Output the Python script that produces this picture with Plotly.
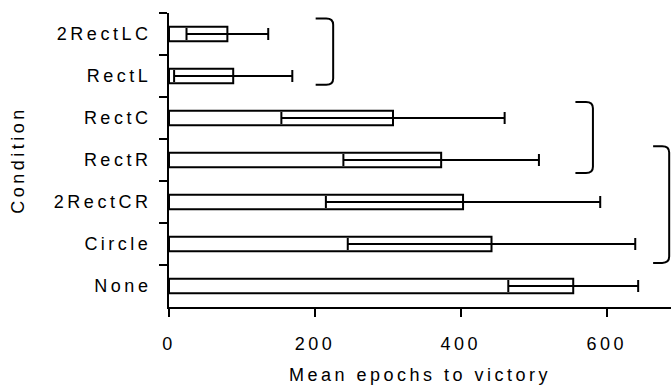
import plotly.graph_objects as go

# ---- data ----
categories = ["2RectLC", "RectL", "RectC", "RectR", "2RectCR", "Circle", "None"]
mean_epochs = [80, 88, 307, 373, 403, 442, 554]
error_epochs = [56, 81, 153, 134, 188, 197, 89]
x_ticks = [0, 200, 400, 600]

# brackets grouping conditions: (first category, last category, x position of bracket)
bracket_groups = [("2RectLC", "RectL", 225), ("RectC", "RectR", 581), ("RectR", "Circle", 685.5)]

FONT = "Liberation Sans, Arial, sans-serif"

fig = go.Figure()
fig.add_trace(go.Bar(
    y=categories,
    x=mean_epochs,
    orientation="h",
    width=0.35,
    marker=dict(color="white", line=dict(color="black", width=2)),
    error_x=dict(type="data", array=error_epochs, symmetric=True,
                 color="black", thickness=2, width=6),
    showlegend=False,
))

shapes = []
extra = {0: (-0.37, 0.21), 1: (-0.38, 0.31), 2: (-0.33, 0.45)}
for i, (c0, c1, xr) in enumerate(bracket_groups):
    top = categories.index(c0) + extra[i][0]
    bot = categories.index(c1) + extra[i][1]
    xl = xr - 24 if i < 2 else xr - 22
    dx, dy = 9.5, 0.15
    path = (f"M {xl},{top} L {xr-dx},{top} Q {xr},{top} {xr},{top+dy} "
            f"L {xr},{bot-dy} Q {xr},{bot} {xr-dx},{bot} L {xl},{bot}")
    shapes.append(dict(type="path", xref="x", yref="y", path=path,
                       line=dict(color="black", width=2)))

fig.update_layout(
    template="none",
    width=671, height=389,
    margin=dict(l=169, r=0, t=13, b=82, autoexpand=False),
    plot_bgcolor="white", paper_bgcolor="white",
    font=dict(family=FONT, size=18, color="black"),
    shapes=shapes,
    bargap=0.65,
)
fig.update_xaxes(
    automargin=False,
    range=[0, 688], tickvals=x_ticks, showgrid=False, zeroline=False,
    showline=True, linecolor="black", linewidth=2,
    ticks="outside", ticklen=8, tickwidth=2, tickcolor="black",
    ticklabelstandoff=11,
    title=dict(text="Mean epochs to victory", font=dict(size=18), standoff=16),
    tickfont=dict(size=18),
)
fig.update_yaxes(
    automargin=False,
    type="category", categoryorder="array", categoryarray=categories,
    range=[6.5, -0.5], tickson="boundaries", showgrid=False, zeroline=False,
    showline=True, linecolor="black", linewidth=2,
    ticks="outside", ticklen=8, tickwidth=2, tickcolor="black",
    ticklabelstandoff=12,
    title=dict(text="Condition", font=dict(size=18), standoff=49),
    tickfont=dict(size=18),
)

post = """
var s=document.createElement('style');
s.textContent='html,body{margin:0;padding:0} .main-svg text{letter-spacing:3.5px}';
document.head.appendChild(s);
"""
fig.write_html("out.html", post_script=post, config={"displayModeBar": False})
